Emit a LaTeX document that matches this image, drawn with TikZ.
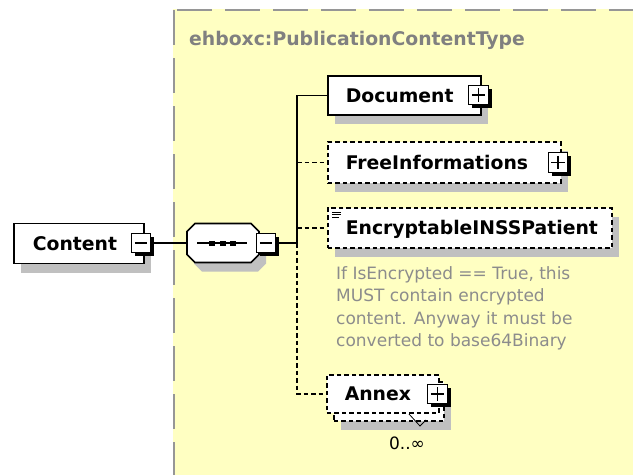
\documentclass[tikz,border=0pt]{standalone}
\usepackage{fontspec}
\setmainfont{DejaVu Sans}
\usetikzlibrary{shadows,calc}
\definecolor{bgyellow}{RGB}{255,255,194}
\definecolor{bordergray}{RGB}{150,150,150}
\definecolor{shadowgray}{RGB}{192,192,192}
\definecolor{titlegray}{RGB}{128,128,128}
\definecolor{notegray}{RGB}{140,140,140}
\newcommand\lblfont{\fontsize{18.8}{22}\selectfont\bfseries}
\begin{document}
\begin{tikzpicture}[x=1pt,y=-1pt,
  elembase/.style={draw, fill=white, line width=1.6pt, font=\lblfont,
    text height=13.7pt, text depth=0pt, inner xsep=18pt, inner ysep=0pt,
    align=left, anchor=west},
  elem/.style={elembase, drop shadow={shadow xshift=7pt, shadow yshift=-9pt,
    fill=shadowgray, opacity=1}},
  opt/.style={dash pattern=on 4.5pt off 3pt},
  pmbox/.style={draw, fill=white, line width=1pt, minimum size=19.5pt, inner sep=0pt,
    drop shadow={shadow xshift=3.5pt, shadow yshift=-3.5pt, fill=black, opacity=1}},
  minusbox/.style={pmbox, path picture={
    \draw[line width=1.3pt] ([xshift=3pt]path picture bounding box.west) --
      ([xshift=-3pt]path picture bounding box.east);}},
  plusbox/.style={pmbox, path picture={
    \draw[line width=1.3pt] ([xshift=3pt]path picture bounding box.west) --
      ([xshift=-3pt]path picture bounding box.east);
    \draw[line width=1.3pt] ([yshift=-3pt]path picture bounding box.north) --
      ([yshift=3pt]path picture bounding box.south);}},
  conn/.style={line width=1.4pt, black},
  border/.style={bordergray, line width=2.5pt, dash pattern=on 35pt off 13pt}
]
\useasboundingbox (0,0) rectangle (633,475);
\fill[white] (0,0) rectangle (633,475);
% complex type region
\fill[bgyellow] (173,9) rectangle (633,475);
\draw[border] (174,10) -- (174,475);
\draw[border] (177,10) -- (633,10);
\node[anchor=west, inner sep=0pt, font=\lblfont, text=titlegray,
  text height=13.7pt, text depth=0pt] (title) at (189,39) {ehboxc:PublicationContentType};

% Content element
\node[elem, text width=92pt, minimum height=40pt, inner xsep=19pt] (content) at (13,243.5) {Content};
\node[minusbox, minimum size=18.5pt] (cm) at (141,243) {};

% sequence compositor
\node[inner sep=0pt, minimum width=72pt, minimum height=39pt] (seq) at (223,243) {};
\fill[shadowgray, shift={(7,9)}] (195,223.5) -- (251,223.5) -- (259,231.5) -- (259,254.5)
  -- (251,262.5) -- (195,262.5) -- (187,254.5) -- (187,231.5) -- cycle;
\draw[line width=1.6pt, fill=white] (195,223.5) -- (251,223.5) -- (259,231.5) -- (259,254.5)
  -- (251,262.5) -- (195,262.5) -- (187,254.5) -- (187,231.5) -- cycle;
\draw[line width=1.5pt] (197,243) -- (247,243);
\fill (209,240.5) rectangle (215,245.5);
\fill (219.5,240.5) rectangle (225.5,245.5);
\fill (230,240.5) rectangle (236,245.5);
\node[minusbox, minimum size=18.5pt] (sm) at (266,243) {};

% child elements
\node[elem, text width=117pt, minimum height=39pt] (document) at (327,95.5) {Document};
\node[plusbox] (dp) at (478.5,95) {};

\node[elem, opt, text width=197pt, minimum height=41pt] (free) at (327,162.5) {FreeInformations};
\node[plusbox] (fp) at (558,162.5) {};

\node[elem, opt, text width=248pt, minimum height=40pt] (encr) at (327,228) {EncryptableINSSPatient};
\draw[line width=1pt] (332,212) -- (341,212) (332,214.5) -- (341,214.5) (332,217) -- (339,217);

\node[anchor=north west, inner sep=0pt, align=left, text=notegray,
  font=\fontsize{17}{22.3}\selectfont] (note) at (336,266.3)
  {If IsEncrypted == True, this\\MUST contain encrypted\\content. Anyway it must be\\converted to base64Binary};

\node[elem, opt, anchor=north west, minimum width=110pt, minimum height=39pt] (annexback) at (333,381) {};
\node[elembase, opt, text width=76pt, minimum height=38pt] (annex) at (326,394) {Annex};
\node[plusbox] (ap) at (437.5,394) {};
\draw[line width=0.8pt] (409,414) -- (420,426) -- (426,420);
\node[font=\fontsize{17}{20}\selectfont, inner sep=0pt] (card) at (407,443) {0..∞};

% connectors
\coordinate (tj) at (297,243);
\draw[conn] (cm.east) -- (seq.west);
\draw[conn] (sm.east) -- (tj);
\draw[conn] (tj) |- (document.west);
\draw[conn, opt] (tj) |- (annex.west);
\draw[conn, opt] (tj |- free.west) -- (free.west);
\draw[conn, opt] (tj |- encr.west) -- (encr.west);
\end{tikzpicture}
\end{document}
